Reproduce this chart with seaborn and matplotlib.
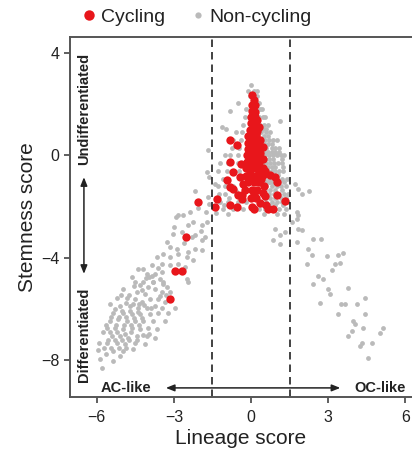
import numpy as np
import pandas as pd
import seaborn as sns
import matplotlib.pyplot as plt
from matplotlib.lines import Line2D

# Non-cycling cells (lineage score, stemness score)
nc_x = [
    # lower-left dense cluster (AC-like, differentiated)
    -4.63, -4.32, -4.01, -3.81, -3.54, -3.42, -4.98, -4.44, -4.12, -3.74, -3.46, -3.27, -3.15,
    -5.21, -4.82, -4.51, -4.24, -3.93, -3.62, -3.35, -5.49, -5.10, -4.71, -4.40, -4.05, -3.74,
    -3.46, -2.96, -5.37, -4.98, -4.63, -4.32, -3.93, -3.62, -3.23, -5.49, -5.18, -4.82, -4.51,
    -4.20, -3.81, -3.35, -5.60, -5.29, -4.98, -4.63, -4.32, -4.01, -3.66, -5.41, -5.10, -4.79,
    -4.44, -4.05, -3.74, -5.60, -5.21, -4.90, -4.51, -4.12, -5.37, -4.98, -5.10, -5.88, -5.37,
    -5.80, -5.05, -4.75, -4.55, -4.25, -4.85, -4.60, -4.35, -4.15, -5.30, -5.00, -4.70, -4.40,
    -3.90, -5.45, -5.15, -4.85, -4.55, -4.25, -5.65, -5.25, -4.95, -4.65, -4.35, -5.75, -5.50,
    -5.20, -4.90, -4.65, -5.55, -5.30, -5.00, -4.75, -4.45, -4.20, -3.95, -5.70, -5.45, -5.15,
    -4.85, -4.60, -3.55, -3.30, -4.10, -3.85, -5.90, -5.65, -5.95,
    # rising band
    -2.18, -1.67, -2.84, -2.92, -2.65, -2.37, -2.45, -2.26, -1.91, -1.71, -3.04, -2.18, -1.91,
    -1.79, -3.27, -3.15, -2.88, -2.45, -2.18, -1.91, -3.66, -3.42, -3.15, -2.84, -2.49, -2.26,
    -3.85, -3.46, -3.15, -2.84, -2.57, -4.40, -4.05, -3.74, -3.46, -2.49, -4.51, -4.20, -3.81,
    -3.42, -2.45, -2.05, -1.75, -1.62, -2.60, -3.00, -3.60, -2.30, -1.95, -4.20, -3.95, -2.70,
    # central cluster
    0.00, -0.10, 0.10, 0.25, 0.23, -0.05, -0.50, 0.30, 0.10, 0.43, -0.20, 0.35, -0.82,
    0.30, 0.45, -0.25, 0.55, 1.13, 0.35, 0.50, 0.65, -0.30, -1.13, -0.98,
    0.40, 0.60, 0.75, -0.35, -0.60, 0.40, 0.55, 0.70, 0.85, -0.40, -0.70, 1.00,
    0.40, 0.60, 0.80, 0.95, 1.10, -0.45, -0.75, -1.67,
    0.40, 0.55, 0.70, 0.85, 1.00, 1.15, 1.30, -0.50, -0.80, -1.00,
    0.45, 0.60, 0.75, 0.90, 1.05, 1.20, -0.50, -0.90, -1.20,
    0.45, 0.65, 0.80, 0.95, 1.10, 1.25, -0.45, -0.95, -1.30, -1.70,
    0.50, 0.70, 0.85, 1.00, 1.20, 1.40, -0.40, -1.10, -1.65,
    0.45, 0.60, 0.80, 1.00, 1.15, 1.35, -0.30, -0.70, -1.00, -1.30,
    0.50, 0.70, 0.90, 1.10, 1.30, 1.45, -0.30, -0.60, -1.00, -1.25,
    0.40, 0.60, 0.80, 1.00, 1.20, 1.40, -0.20, -0.50, -0.90, -1.20,
    0.30, 0.55, 0.90, 1.10, 1.35, -0.30, -0.70, -1.10, 0.50, 1.00, 1.30, -0.90,
    0.55, 0.70, 0.85, 0.65, 0.80, 0.95, 0.75, 0.90, 1.05, 0.60, 0.75,
    0.50, 0.65, 0.80, 0.95, 1.10, 0.55, 0.70, 0.85, 1.10, 1.30, 0.55, 0.75, 0.95, 1.20,
    0.55, 0.75, 0.95, 1.15, 1.35, 0.45, 0.70, 0.95, 1.25, 0.50, 0.65, 0.80, 0.50, 0.65,
    0.45, 0.60, 1.20, 1.25, -0.60, -0.85, -1.05, -1.40, -1.35,
    # right arm (OC-like)
    1.83, 1.98, 2.26, 1.79, 1.83, 1.79, 1.83, 1.98, 0.93, 1.13, 0.86, 1.13, 1.32, 1.79,
    2.41, 2.72, 2.22, 2.37, 2.96, 3.39, 3.58, 2.18, 3.27, 3.46, 3.15,
    2.41, 2.61, 2.80, 3.00, 3.07, 3.77, 2.68, 3.50, 3.66, 4.12, 4.44, 3.39, 3.97, 4.05,
    4.44, 4.36, 3.93, 3.77, 4.32, 4.71, 4.24, 5.02, 5.14, 4.55, 1.60, 1.70,
]
nc_y = [
    -4.73, -5.04, -5.12, -4.92, -4.81, -5.00, -5.23, -5.31, -5.39, -5.23, -5.31, -5.12, -5.31,
    -5.58, -5.58, -5.62, -5.70, -5.62, -5.62, -5.70, -5.81, -5.89, -5.89, -5.97, -5.97, -5.89,
    -5.97, -5.97, -6.16, -6.16, -6.20, -6.20, -6.20, -6.16, -6.16, -6.47, -6.40, -6.47, -6.47,
    -6.47, -6.47, -6.47, -6.74, -6.74, -6.78, -6.74, -6.78, -6.74, -6.78, -7.05, -7.05, -7.13,
    -7.05, -7.05, -7.13, -7.33, -7.33, -7.36, -7.33, -7.36, -7.64, -7.64, -7.83, -7.95, -8.02,
    -8.29, -5.45, -5.45, -5.10, -5.25, -5.75, -5.80, -5.80, -5.85, -6.00, -6.05, -6.05, -6.10,
    -5.95, -6.30, -6.30, -6.30, -6.35, -6.35, -6.60, -6.60, -6.60, -6.60, -6.60, -6.90, -6.90,
    -6.90, -6.95, -6.90, -7.20, -7.20, -7.20, -7.20, -7.20, -7.00, -6.95, -7.50, -7.50, -7.50,
    -7.50, -7.55, -5.50, -5.45, -4.80, -4.70, -7.30, -7.75, -7.60,
    -1.40, -1.63, -2.33, -2.40, -2.33, -2.21, -2.71, -2.60, -2.71, -2.60, -3.06, -3.10, -3.29,
    -3.18, -3.37, -3.57, -3.64, -3.76, -3.64, -3.68, -3.95, -3.84, -3.95, -3.84, -3.95, -4.07,
    -4.26, -4.22, -4.26, -4.22, -4.34, -4.42, -4.61, -4.61, -4.53, -4.81, -4.92, -4.92, -4.92,
    -4.92, -4.92, -2.05, -2.20, -1.90, -3.40, -2.80, -4.40, -3.20, -2.95, -4.45, -4.75, -3.00,
    2.75, 2.50, 2.50, 2.50, 2.30, 2.30, 2.05, 2.05, 2.05, 1.80, 1.80, 1.80, 1.74,
    1.50, 1.50, 1.50, 1.50, 1.36, 1.20, 1.20, 1.20, 1.20, 1.09, 1.05,
    0.90, 0.90, 0.90, 0.90, 0.90, 0.60, 0.60, 0.60, 0.60, 0.60, 0.60, 0.60,
    0.30, 0.30, 0.30, 0.30, 0.30, 0.30, 0.30, 0.23,
    0.00, 0.00, 0.00, 0.00, 0.00, 0.00, 0.00, 0.00, 0.00, 0.00,
    -0.30, -0.30, -0.30, -0.30, -0.30, -0.30, -0.30, -0.30, -0.30,
    -0.60, -0.60, -0.60, -0.60, -0.60, -0.60, -0.60, -0.60, -0.60, -0.66,
    -0.90, -0.90, -0.90, -0.90, -0.90, -0.90, -0.90, -0.90, -0.85,
    -1.20, -1.20, -1.20, -1.20, -1.20, -1.20, -1.20, -1.20, -1.20, -1.20,
    -1.50, -1.50, -1.50, -1.50, -1.50, -1.50, -1.50, -1.50, -1.50, -1.50,
    -1.80, -1.80, -1.80, -1.80, -1.80, -1.80, -1.80, -1.80, -1.80, -1.80,
    -2.10, -2.10, -2.10, -2.10, -2.10, -2.10, -2.10, -2.10, -2.30, -2.30, -2.30, -2.30,
    -0.15, -0.15, -0.15, -0.45, -0.45, -0.45, -0.75, -0.75, -0.75, -1.05, -1.05,
    0.15, 0.15, 0.15, 0.15, 0.15, -1.05, -1.05, -1.05, -1.05, -1.05, -1.35, -1.35, -1.35, -1.35,
    -1.65, -1.65, -1.65, -1.65, -1.65, -1.95, -1.95, -1.95, -1.95, 0.45, 0.45, 0.45, 0.75, 0.75,
    1.05, 1.05, -0.15, -0.45, -1.40, -1.65, -1.95, -1.10, -2.25,
    -1.32, -1.51, -1.40, -2.21, -2.33, -2.48, -2.87, -2.91, -2.87, -3.10, -3.29, -3.45, -2.98, -3.37,
    -3.26, -3.26, -3.64, -3.88, -3.91, -3.88, -3.80, -4.22, -4.22, -4.19, -4.46,
    -5.00, -4.69, -4.84, -5.23, -5.39, -5.19, -5.74, -5.81, -5.81, -5.81, -5.58, -6.20, -6.47, -6.59,
    -6.20, -6.74, -6.86, -7.05, -7.33, -7.33, -7.44, -6.94, -6.74, -7.91, -2.60, -1.10,
]

# Cycling cells
cy_x = [
    # core column
    0.05, 0.10, 0.05, 0.15, 0.05, 0.15, 0.00, 0.15, 0.25, 0.00, 0.15, 0.30,
    -0.05, 0.10, 0.25, -0.10, 0.05, 0.20, 0.35, -0.10, 0.05, 0.20, 0.35,
    -0.10, 0.05, 0.20, 0.35, -0.15, 0.00, 0.15, 0.30, 0.45, -0.15, 0.00, 0.15, 0.30, 0.45,
    -0.20, 0.00, 0.15, 0.30, 0.45, -0.20, 0.00, 0.20, 0.40, -0.10, 0.10, 0.30, 0.50,
    -0.25, 0.05, 0.25, 0.45, 0.00, 0.20, 0.35,
    0.10, 0.10, 0.20, 0.10, 0.25, -0.05, 0.30, 0.10, -0.30, 0.55, -0.35, 0.55, -0.40, 0.10,
    # scattered around the core
    -0.82, -0.54, 0.47, -0.82, -0.70, -0.93, -0.82, -0.70, -0.51, -0.35, -1.32, -1.40,
    -0.82, -0.54, 0.04, 0.66, 0.86, 1.01, 0.93, 1.01, 0.75, -0.43, 1.32, 0.60,
    # left arm
    -2.06, -2.53, -2.96, -2.68, -3.15,
]
cy_y = [
    2.36, 2.15, 1.95, 1.95, 1.75, 1.70, 1.50, 1.50, 1.40, 1.25, 1.25, 1.10,
    1.00, 1.00, 0.95, 0.75, 0.75, 0.75, 0.60, 0.50, 0.50, 0.50, 0.35,
    0.25, 0.25, 0.25, 0.10, 0.00, 0.00, 0.00, 0.00, -0.15, -0.25, -0.25, -0.25, -0.25, -0.50,
    -0.50, -0.50, -0.50, -0.50, -0.75, -0.80, -0.80, -0.80, -0.90, -1.05, -1.05, -1.05, -1.20,
    -1.35, -1.35, -1.35, -1.45, -1.65, -1.65, -1.85,
    1.60, 1.35, 0.85, 0.40, -0.40, -0.60, -0.65, -1.55, -1.10, -0.60, -1.55, -1.60, -0.35, -2.10,
    0.62, 0.39, 0.31, -0.27, -0.66, -0.97, -1.24, -1.30, -1.55, -1.70, -1.71, -2.02,
    -1.94, -2.02, -2.02, -2.09, -2.09, -1.55, -0.85, -1.05, -0.75, -0.85, -1.78, -1.95,
    -1.82, -3.18, -4.50, -4.50, -5.62,
]

nc = pd.DataFrame({"lineage": nc_x, "stemness": nc_y})
cy = pd.DataFrame({"lineage": cy_x, "stemness": cy_y})

sns.set_style("ticks")
plt.rcParams['font.family'] = ['Liberation Sans', 'DejaVu Sans']

gray = "#bababa"
red = "#e8161b"
ink = "#222222"

fig = plt.figure(figsize=(4.12, 4.57), dpi=100)
ax = fig.add_axes([0.170, 0.131, 0.830, 0.788])

sns.scatterplot(data=nc, x="lineage", y="stemness", color=gray, s=12, linewidth=0, ax=ax, legend=False)
sns.scatterplot(data=cy, x="lineage", y="stemness", color=red, s=36, linewidth=0, ax=ax, legend=False)

for xv in [-1.5, 1.5]:
    ax.axvline(xv, color=ink, lw=1.2, dashes=(4.5, 3))

ax.set_xlim(-7.04, 6.26)
ax.set_ylim(-9.43, 4.62)
ax.set_xticks([-6, -3, 0, 3, 6])
ax.set_yticks([-8, -4, 0, 4])
ax.set_xticklabels(["\u22126", "\u22123", "0", "3", "6"])
ax.set_yticklabels(["\u22128", "\u22124", "0", "4"])
ax.tick_params(labelsize=11.5, length=4, width=1.2, color="#444444", labelcolor=ink)
ax.tick_params(axis="x", pad=5)
ax.set_xlabel("Lineage score", fontsize=15, color=ink, labelpad=3)
ax.set_ylabel("Stemness score", fontsize=15, color=ink, labelpad=3)

for side in ["left", "bottom", "top"]:
    ax.spines[side].set_linewidth(1.4)
    ax.spines[side].set_color("#555555")
ax.spines["right"].set_visible(False)

# direction annotations
ax.text(-6.5, 1.8, "Undifferentiated", rotation=90, ha="center", va="center",
        fontsize=10.5, fontweight="bold", color=ink)
ax.text(-6.5, -7.0, "Differentiated", rotation=90, ha="center", va="center",
        fontsize=10.5, fontweight="bold", color=ink)
ax.annotate("", xy=(-6.5, -0.74), xytext=(-6.5, -4.73),
            arrowprops=dict(arrowstyle="<|-|>,head_length=0.5,head_width=0.2", color=ink, lw=1.1))
ax.annotate("", xy=(-3.42, -9.07), xytext=(3.58, -9.07),
            arrowprops=dict(arrowstyle="<|-|>,head_length=0.5,head_width=0.2", color=ink, lw=1.1))
ax.text(-4.85, -9.07, "AC-like", ha="center", va="center", fontsize=10.5, fontweight="bold", color=ink)
ax.text(5.0, -9.07, "OC-like", ha="center", va="center", fontsize=10.5, fontweight="bold", color=ink)

handles = [
    Line2D([], [], marker="o", linestyle="", color=red, markersize=7.5, markeredgewidth=0),
    Line2D([], [], marker="o", linestyle="", color=gray, markersize=4.5, markeredgewidth=0),
]
fig.legend(handles, ["Cycling", "Non-cycling"], loc="center", bbox_to_anchor=(0.475, 0.962),
           ncol=2, frameon=False, fontsize=14, handletextpad=0.1, columnspacing=1.2,
           handlelength=1.0, labelcolor=ink)

fig.savefig("out.png", dpi=100)
